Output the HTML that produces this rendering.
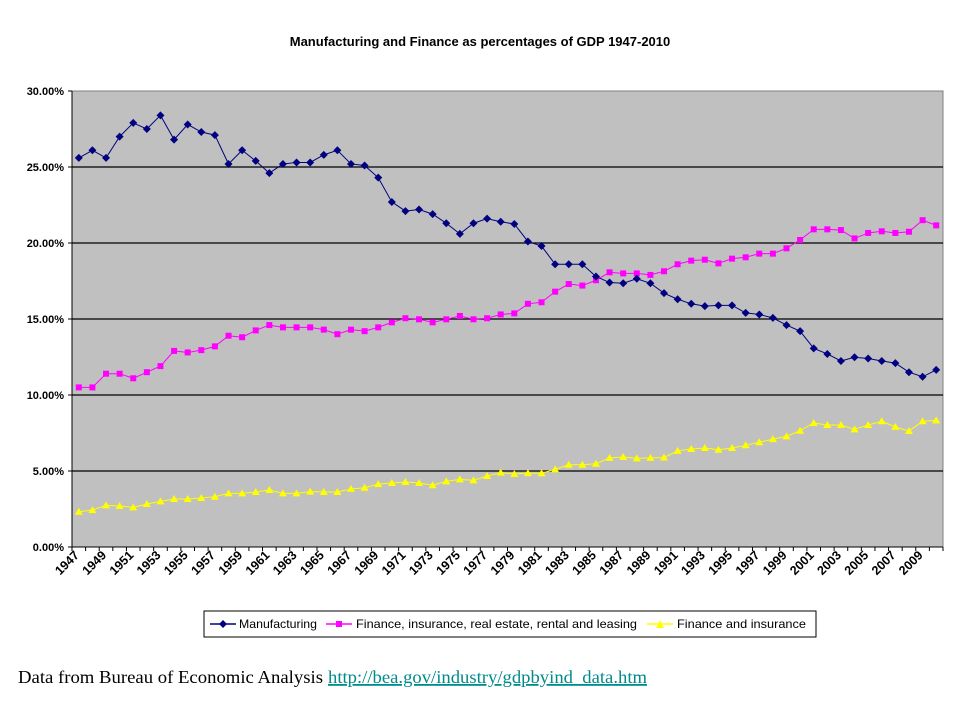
<!DOCTYPE html>
<html><head><meta charset="utf-8"><style>
body{margin:0;width:960px;height:720px;background:#fff;overflow:hidden;}
svg{display:block;}
</style></head><body>
<svg id="chart" width="960" height="720" xmlns="http://www.w3.org/2000/svg">
<text x="480" y="46" text-anchor="middle" font-family="Liberation Sans, sans-serif" font-weight="bold" font-size="13">Manufacturing and Finance as percentages of GDP 1947-2010</text>
<rect x="72" y="91" width="871" height="456" fill="#c0c0c0" stroke="#808080" stroke-width="1"/>
<g id="grid"></g><g id="axes"></g><g id="series"></g>
<g>
<rect x="204" y="611" width="612" height="26" fill="#fff" stroke="#000" stroke-width="1"/>
<g>
<line x1="210" y1="624" x2="236" y2="624" stroke="#000080" stroke-width="1.5"/>
<path d="M223 620 L227 624 L223 628 L219 624Z" fill="#000080"/>
<text x="239" y="628" font-family="Liberation Sans, sans-serif" font-size="12" textLength="78" lengthAdjust="spacingAndGlyphs">Manufacturing</text></g>
<g>
<line x1="326" y1="624" x2="352" y2="624" stroke="#ff00ff" stroke-width="1.5"/>
<rect x="336" y="621" width="6" height="6" fill="#ff00ff"/>
<text x="356" y="628" font-family="Liberation Sans, sans-serif" font-size="12" textLength="281" lengthAdjust="spacingAndGlyphs">Finance, insurance, real estate, rental and leasing</text></g>
<g>
<line x1="647" y1="624" x2="673" y2="624" stroke="#ffff00" stroke-width="1.5"/>
<path d="M660 620 L664 628 L656 628Z" fill="#ffff00"/>
<text x="677" y="628" font-family="Liberation Sans, sans-serif" font-size="12" textLength="129" lengthAdjust="spacingAndGlyphs">Finance and insurance</text></g>
</g>
<text x="18" y="683" font-family="Liberation Serif, serif" font-size="18"><tspan textLength="305" lengthAdjust="spacingAndGlyphs">Data from Bureau of Economic Analysis</tspan> <tspan x="328" fill="#008b8b" text-decoration="underline" textLength="319" lengthAdjust="spacingAndGlyphs">http://bea.gov/industry/gdpbyind_data.htm</tspan></text>
</svg>
<script>
const years=[];for(let y=1947;y<=2010;y++)years.push(y);
const manufacturing=[25.6,26.1,25.6,27.0,27.9,27.5,28.4,26.8,27.8,27.3,27.1,25.2,26.1,25.4,24.6,25.2,25.3,25.3,25.8,26.1,25.2,25.1,24.3,22.7,22.1,22.2,21.9,21.3,20.6,21.3,21.6,21.4,21.25,20.1,19.8,18.6,18.6,18.6,17.8,17.4,17.35,17.65,17.35,16.7,16.3,16.0,15.85,15.9,15.9,15.4,15.3,15.07,14.6,14.2,13.07,12.7,12.24,12.48,12.4,12.24,12.1,11.5,11.2,11.65];
const fire=[10.5,10.5,11.4,11.4,11.1,11.5,11.9,12.9,12.8,12.95,13.2,13.9,13.8,14.25,14.6,14.45,14.45,14.45,14.3,14.0,14.3,14.2,14.45,14.78,15.05,14.98,14.78,14.98,15.2,14.98,15.05,15.3,15.37,16.0,16.1,16.8,17.3,17.2,17.55,18.07,18.0,18.0,17.9,18.14,18.6,18.84,18.9,18.66,18.97,19.06,19.3,19.3,19.65,20.2,20.9,20.9,20.85,20.3,20.66,20.77,20.66,20.74,21.5,21.16];
const financeInsurance=[2.32,2.43,2.74,2.7,2.61,2.83,3.0,3.16,3.16,3.22,3.31,3.53,3.53,3.62,3.75,3.53,3.53,3.64,3.62,3.62,3.82,3.9,4.14,4.21,4.28,4.21,4.06,4.32,4.45,4.38,4.67,4.89,4.8,4.86,4.85,5.11,5.41,5.41,5.48,5.86,5.92,5.83,5.86,5.89,6.32,6.45,6.51,6.4,6.51,6.69,6.89,7.1,7.28,7.65,8.16,8.03,8.03,7.74,8.03,8.27,7.9,7.63,8.27,8.33];
const yTicks=[0,5,10,15,20,25,30];
const X0=72,X1=943,Y0=547,Y1=91,YMAX=30;
const cw=(X1-X0)/years.length;
const xs=i=>X0+cw*(i+0.5);
const ys=v=>Y0-(v/YMAX)*(Y0-Y1);
const NS='http://www.w3.org/2000/svg';
function mk(t,a,p){const e=document.createElementNS(NS,t);for(const k in a)e.setAttribute(k,a[k]);p.appendChild(e);return e;}
const grid=document.getElementById('grid'),axes=document.getElementById('axes'),ser=document.getElementById('series');
yTicks.forEach(v=>{
 if(v>0&&v<30){const g=mk('line',{x1:X0,x2:X1,y1:ys(v),y2:ys(v),stroke:'#000','stroke-width':1.3},grid);
 
 }
 mk('line',{x1:X0-4,x2:X0,y1:ys(v),y2:ys(v),stroke:'#000'},axes);
 const t=mk('text',{x:X0-8,y:ys(v)+4,'text-anchor':'end','font-family':'Liberation Sans, sans-serif','font-weight':'bold','font-size':11},axes);
 t.textContent=v.toFixed(2)+'%';
 
 
});
mk('line',{x1:X0,x2:X0,y1:Y1,y2:Y0,stroke:'#000'},axes);
mk('line',{x1:X0,x2:X1,y1:Y0,y2:Y0,stroke:'#000'},axes);
for(let i=0;i<=years.length;i++)mk('line',{x1:X0+cw*i,x2:X0+cw*i,y1:Y0,y2:Y0+4,stroke:'#000'},axes);
years.forEach((y,i)=>{if(i%2)return;
 const x=xs(i)+1,yy=Y0+9;
 const t=mk('text',{x:x,y:yy,'text-anchor':'end','font-family':'Liberation Sans, sans-serif','font-weight':'bold','font-size':12.5,transform:`rotate(-45 ${x} ${yy})`},axes);
 t.textContent=y;
 
 
});
function series(data,color,shape,name){
 const g=mk('g',{},ser);
 
 
 mk('polyline',{points:data.map((v,i)=>xs(i)+','+ys(v)).join(' '),fill:'none',stroke:color,'stroke-width':1},g);
 data.forEach((v,i)=>{const x=xs(i),y=ys(v);let m;
  if(shape==='d')m=mk('path',{d:`M${x} ${y-4}L${x+4} ${y}L${x} ${y+4}L${x-4} ${y}Z`,fill:color},g);
  else if(shape==='s')m=mk('rect',{x:x-3,y:y-3,width:6,height:6,fill:color},g);
  else m=mk('path',{d:`M${x} ${y-4}L${x+4} ${y+3}L${x-4} ${y+3}Z`,fill:color},g);
  
  
 });
}
series(financeInsurance,'#ffff00','t','finance-insurance-series');
series(fire,'#ff00ff','s','fire-series');
series(manufacturing,'#000080','d','manufacturing-series');
</script>
</body></html>
